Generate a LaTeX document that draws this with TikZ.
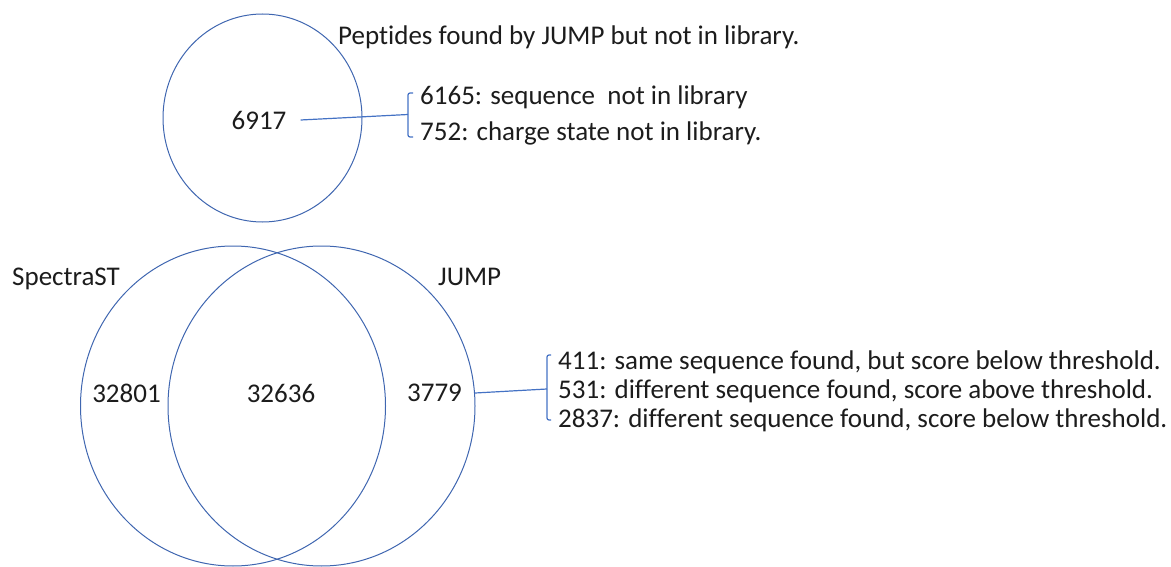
\documentclass[tikz,border=0pt]{standalone}
\usepackage{fontspec}
\setmainfont{Carlito}[Ligatures={NoCommon,NoRequired,NoContextual},Contextuals={NoAlternate}]
\usetikzlibrary{shapes.geometric}
\definecolor{vennblue}{HTML}{4472C4}
\definecolor{ringblue}{HTML}{3F66B0}
\definecolor{txt}{HTML}{1C1C1C}
\begin{document}
\begin{tikzpicture}[x=1pt,y=-1pt,
  set/.style={draw=ringblue, line width=1pt, ellipse, inner sep=0pt},
  lbl/.style={text=txt, inner sep=0pt, anchor=base west, font=\fontsize{27pt}{32pt}\selectfont},
  num/.style={text=txt, inner ysep=0pt, font=\fontsize{27pt}{32pt}\selectfont},
  link/.style={draw=vennblue, line width=1.2pt},
  brace/.style={draw=vennblue, line width=1.2pt, rounded corners=2pt}]
\useasboundingbox (0,0) rectangle (1171,567);

% --- peptides found only by JUMP ---
\node[set, minimum width=199pt, minimum height=208pt] (top) at (262.5,118) {};
\node[lbl] (title) at (338,45) {Peptides found by JUMP but not in library.};
\node[num, inner xsep=14pt] (n6917) at (259,120) {6917};
\coordinate (b1) at (408,114.5);
\draw[link] (n6917.east) -- (b1);
\draw[brace] (b1) ++(5,-21.5) -- ++(-5,0) -- ++(0,44) -- ++(5,0);
\node[lbl] (l6165) at (420,105) {6165: sequence\ \ not in library};
\node[lbl] (l752) at (420,141) {752: charge state not in library.};

% --- SpectraST / JUMP overlap ---
\node[set, minimum width=305pt, minimum height=320pt] (spectra) at (233,406) {};
\node[set, minimum width=307pt, minimum height=320pt] (jump) at (321.5,406) {};
\node[lbl] (lspectra) at (12,285) {SpectraST};
\node[lbl] (ljump) at (438,285) {JUMP};
\node[num] (n32801) at (126.5,393) {32801};
\node[num] (n32636) at (281,393) {32636};
\node[num, inner xsep=13pt] (n3779) at (434.5,393) {3779};
\coordinate (b2) at (547,389);
\draw[link] (n3779.east) -- (b2);
\draw[brace] (b2) ++(4,-34) -- ++(-4,0) -- ++(0,65) -- ++(4,0);
\node[lbl] (l411) at (558,369) {411: same sequence found, but score below threshold.};
\node[lbl] (l531) at (558,398) {531: different sequence found, score above threshold.};
\node[lbl] (l2837) at (558,427) {2837: different sequence found, score below threshold.};
\end{tikzpicture}
\end{document}
